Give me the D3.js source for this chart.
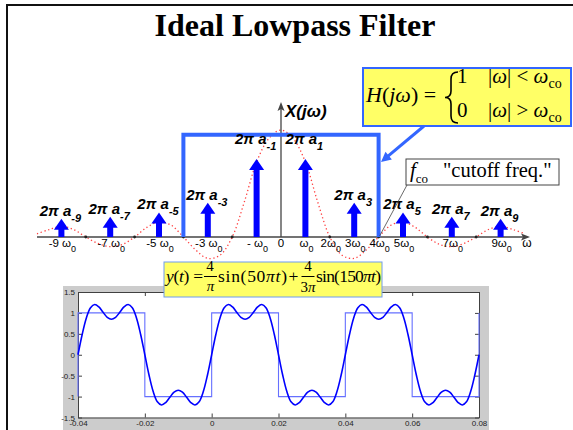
<!DOCTYPE html>
<html><head><meta charset="utf-8">
<script src="https://cdn.jsdelivr.net/npm/d3@7"></script>
<style>
html,body{margin:0;padding:0;background:#fff;}
svg{display:block;}
</style></head>
<body>
<svg id="c" width="573" height="430"></svg>
<script>
// ---------- DATA ----------
const titleText = "Ideal Lowpass Filter";
// spectrum: harmonic indices (multiples of w0) and relative line heights (2*pi*a_k, magnitude)
const harmonicK = [-9, -7, -5, -3, -1, 1, 3, 5, 7, 9];
const harmonicMag = [0.17, 0.19, 0.23, 0.32, 0.73, 0.73, 0.32, 0.23, 0.19, 0.17];
const harmonicSub = ["-9", "-7", "-5", "-3", "-1", "1", "3", "5", "7", "9"];
// dotted envelope (multiples of w0, relative height)
const envW = [-10,-9.5,-9,-8.5,-8,-7.5,-7,-6.5,-6,-5.5,-5,-4.5,-4,-3.5,-3,-2.5,-2,-1.5,-1,-0.5,0,
              0.5,1,1.5,2,2.5,3,3.5,4,4.5,5,5.5,6,6.5,7,7.5,8,8.5,9,9.5,10];
const envV = [0.03,0.07,0.10,0.07,0,-0.06,-0.09,-0.07,0,0.09,0.14,0.11,0,-0.12,-0.20,-0.17,0,0.33,0.70,0.92,1.0,
              0.92,0.70,0.33,0,-0.17,-0.20,-0.12,0,0.11,0.14,0.09,0,-0.07,-0.09,-0.06,0,0.07,0.10,0.07,0.03];
const cutoffW = 4;
const passbandHeight = 0.956;
const freqTickPos = [-9, -7, -5, -3, -1, 0, 1, 2, 3, 4, 5, 7, 9];
const freqTickMain = ["-9 ω", "-7 ω", "-5 ω", "-3 ω", "- ω", "0", "ω", "2ω", "3ω", "4ω", "5ω", "7ω", "9ω"];
const freqTickSub = ["0", "0", "0", "0", "0", "", "0", "0", "0", "0", "0", "0", "0"];
const freqDots = [-8, -6, -4, -2, 2, 4, 6, 8];

// time plot
const tStart = -0.04, tStep = 0.00125;
const yValues = [
 0, 0.484, 0.879, 1.124, 1.200, 1.142, 1.014, 0.896, 0.849, 0.896, 1.014, 1.142, 1.200, 1.124, 0.879, 0.484,
 0, -0.484, -0.879, -1.124, -1.200, -1.142, -1.014, -0.896, -0.849, -0.896, -1.014, -1.142, -1.200, -1.124, -0.879, -0.484,
 0, 0.484, 0.879, 1.124, 1.200, 1.142, 1.014, 0.896, 0.849, 0.896, 1.014, 1.142, 1.200, 1.124, 0.879, 0.484,
 0, -0.484, -0.879, -1.124, -1.200, -1.142, -1.014, -0.896, -0.849, -0.896, -1.014, -1.142, -1.200, -1.124, -0.879, -0.484,
 0, 0.484, 0.879, 1.124, 1.200, 1.142, 1.014, 0.896, 0.849, 0.896, 1.014, 1.142, 1.200, 1.124, 0.879, 0.484,
 0, -0.484, -0.879, -1.124, -1.200, -1.142, -1.014, -0.896, -0.849, -0.896, -1.014, -1.142, -1.200, -1.124, -0.879, -0.484,
 0];
const squareT = [-0.04, -0.04, -0.02, 0, 0.02, 0.04, 0.06, 0.08, 0.08];
const squareV = [-1, 1, -1, 1, -1, 1, -1, -1, 1];
const timeTicks = [-0.04, -0.02, 0, 0.02, 0.04, 0.06, 0.08];
const timeTickLabels = ["-0.04", "-0.02", "0", "0.02", "0.04", "0.06", "0.08"];
const ampTicks = [-1.5, -1, -0.5, 0, 0.5, 1, 1.5];
const ampTickLabels = ["-1.5", "-1", "-0.5", "0", "0.5", "1", "1.5"];
const timeLabel = "time in sec";

// ---------- DRAW ----------
const svg = d3.select("#c");
const SERIF = "'Liberation Serif','Times New Roman',serif";
const SANS = "'Liberation Sans',Arial,Helvetica,sans-serif";

// slide border
svg.append("rect").attr("x", 7).attr("y", 5).attr("width", 700).attr("height", 600)
  .attr("fill", "none").attr("stroke", "#111").attr("stroke-width", 2);

svg.append("text").attr("x", 295).attr("y", 36).attr("text-anchor", "middle")
  .attr("font-family", SERIF).attr("font-weight", "bold").attr("font-size", 32).text(titleText);

// spectrum scales
const xW = d3.scaleLinear().domain([-10, 10]).range([37, 525]);
const yW = d3.scaleLinear().domain([0, 1]).range([237, 130]);

// envelope
svg.append("path").datum(envW.map((w, i) => [w, envV[i]]))
  .attr("d", d3.line().x(d => xW(d[0])).y(d => yW(d[1])).curve(d3.curveCatmullRom))
  .attr("fill", "none").attr("stroke", "#ff4040").attr("stroke-width", 1.3)
  .attr("stroke-dasharray", "1.3,2.6");

// axes of spectrum
const axCol = "#444";
svg.append("line").attr("x1", xW(-10)).attr("x2", 524).attr("y1", yW(0)).attr("y2", yW(0))
  .attr("stroke", axCol).attr("stroke-width", 1.5);
svg.append("path").attr("d", `M530,${yW(0)} L521,${yW(0)-3.5} L523,${yW(0)} L521,${yW(0)+3.5}Z`).attr("fill", axCol);
svg.append("line").attr("x1", xW(0)).attr("x2", xW(0)).attr("y1", yW(0)).attr("y2", 108)
  .attr("stroke", axCol).attr("stroke-width", 1.3);
svg.append("path").attr("d", `M${xW(0)},102 L${xW(0)-3.5},111 L${xW(0)},109 L${xW(0)+3.5},111Z`).attr("fill", axCol);
svg.append("text").attr("x", 285).attr("y", 117).attr("font-family", SANS).attr("font-weight", "bold")
  .attr("font-style", "italic").attr("font-size", 17).text("X(jω)");

svg.selectAll("circle.dot").data(freqDots).join("circle").attr("class", "dot")
  .attr("cx", d => xW(d)).attr("cy", yW(0)).attr("r", 1.4).attr("fill", "#222");

// passband rect
svg.append("path")
  .attr("d", `M${xW(-cutoffW)},${yW(0)} V${yW(passbandHeight)} H${xW(cutoffW)} V${yW(0)}`)
  .attr("fill", "none").attr("stroke", "#3366ff").attr("stroke-width", 4);

// harmonic arrows
const arrows = svg.selectAll("g.arr").data(harmonicK.map((k, i) => ({k, m: harmonicMag[i], s: harmonicSub[i]})))
  .join("g").attr("class", "arr");
arrows.append("rect").attr("x", d => xW(d.k) - 3).attr("width", 6)
  .attr("y", d => yW(d.m) + 10).attr("height", d => yW(0) - yW(d.m) - 10).attr("fill", "#0000ff");
arrows.append("path").attr("d", d => {
  const x = xW(d.k), t = yW(d.m);
  return `M${x},${t} L${x + 7.5},${t + 11} L${x - 7.5},${t + 11}Z`;
}).attr("fill", "#0000ff");
const lab = arrows.append("text")
  .attr("x", d => xW(d.k) - 1)
  .attr("y", d => Math.abs(d.k) === 1 ? yW(d.m) - 15 : yW(d.m) - 3)
  .attr("text-anchor", "middle").attr("font-family", SANS).attr("font-weight", "bold")
  .attr("font-style", "italic").attr("font-size", 15);
lab.append("tspan").text("2π a");
lab.append("tspan").attr("dy", 6).attr("font-size", 11).text(d => d.s);

// frequency tick labels
const ft = svg.selectAll("text.ft").data(freqTickPos.map((p, i) => ({p, m: freqTickMain[i], s: freqTickSub[i]})))
  .join("text").attr("class", "ft")
  .attr("x", d => xW(d.p) + (d.s ? 1 : 0)).attr("y", 247).attr("text-anchor", "middle")
  .attr("font-family", SANS).attr("font-size", 11.5);
ft.append("tspan").text(d => d.m);
ft.append("tspan").attr("dy", 5).attr("font-size", 9).text(d => d.s);
svg.append("text").attr("x", 527).attr("y", 247).attr("text-anchor", "middle")
  .attr("font-family", SANS).attr("font-size", 12).text("ω");

// H(jw) box
const hb = svg.append("g");
hb.append("rect").attr("x", 363).attr("y", 68).attr("width", 208).attr("height", 58)
  .attr("fill", "#ffff66").attr("stroke", "#3366ff").attr("stroke-width", 2);
const ht = hb.append("text").attr("x", 366).attr("y", 102).attr("font-family", SERIF).attr("font-size", 22);
ht.append("tspan").attr("font-style", "italic").text("H");
ht.append("tspan").text("(");
ht.append("tspan").attr("font-style", "italic").text("j");
ht.append("tspan").attr("font-style", "italic").text("ω");
ht.append("tspan").text(") =");
hb.append("path").attr("d", "M458,72 Q451,72 451,79 L451,91 Q451,97.5 445,97.5 Q451,97.5 451,104 L451,116 Q451,123 458,123")
  .attr("fill", "none").attr("stroke", "#000").attr("stroke-width", 1.6);
[[83, "1", "<"], [117, "0", ">"]].forEach(([y, v, op]) => {
  hb.append("text").attr("x", 457).attr("y", y).attr("font-family", SERIF).attr("font-size", 21).text(v);
  const t = hb.append("text").attr("x", 488).attr("y", y).attr("font-family", SERIF).attr("font-size", 21);
  t.append("tspan").text("|");
  t.append("tspan").attr("font-style", "italic").text("ω");
  t.append("tspan").text("| " + op + " ");
  t.append("tspan").attr("font-style", "italic").text("ω");
  t.append("tspan").attr("dy", 5).attr("font-size", 14).text("co");
});

// arrow from H box to passband
(function () {
  const x1 = 424, y1 = 126, x2 = 381, y2 = 162;
  const L = Math.hypot(x2 - x1, y2 - y1), ux = (x2 - x1) / L, uy = (y2 - y1) / L;
  svg.append("line").attr("x1", x1).attr("y1", y1).attr("x2", x2 - 8 * ux).attr("y2", y2 - 8 * uy)
    .attr("stroke", "#3366ff").attr("stroke-width", 3);
  const bx = x2 - 10 * ux, by = y2 - 10 * uy, px = -uy, py = ux;
  svg.append("path").attr("d", `M${x2},${y2} L${bx + 5 * px},${by + 5 * py} L${bx - 5 * px},${by - 5 * py}Z`)
    .attr("fill", "#3366ff");
})();

// cutoff box
svg.append("line").attr("x1", 407).attr("y1", 185).attr("x2", xW(cutoffW) + 1).attr("y2", yW(0) - 1)
  .attr("stroke", "#444").attr("stroke-width", 0.8);
svg.append("rect").attr("x", 406).attr("y", 159).attr("width", 153).attr("height", 26)
  .attr("fill", "#fff").attr("stroke", "#444").attr("stroke-width", 1);
const fc = svg.append("text").attr("x", 410).attr("y", 177).attr("font-family", SERIF).attr("font-size", 21);
fc.append("tspan").attr("font-style", "italic").text("f");
fc.append("tspan").attr("dy", 6).attr("font-size", 13).text("co");
svg.append("text").attr("x", 443).attr("y", 177).attr("font-family", SERIF).attr("font-size", 20.5)
  .text("\"cutoff freq.\"");

// ---------- time plot ----------
svg.append("rect").attr("x", 63).attr("y", 286).attr("width", 426).attr("height", 150).attr("fill", "#cccccc");
const xT = d3.scaleLinear().domain([-0.04, 0.08]).range([78, 479]);
const yT = d3.scaleLinear().domain([-1.5, 1.5]).range([417.5, 292]);
svg.append("rect").attr("x", 78).attr("y", 292).attr("width", 401).attr("height", 125.5).attr("fill", "#fff");

function styleAxis(g, labels) {
  g.select(".domain").attr("stroke", "#404040");
  g.selectAll(".tick line").attr("stroke", "#404040");
  g.selectAll(".tick text").attr("font-family", SANS).attr("font-size", 8).attr("fill", "#222");
  if (!labels) g.selectAll(".tick text").remove();
}
svg.append("g").attr("transform", "translate(0,417.5)")
  .call(d3.axisBottom(xT).tickValues(timeTicks).tickFormat((d, i) => timeTickLabels[i]).tickSizeInner(-4).tickSizeOuter(0).tickPadding(3))
  .call(g => styleAxis(g, true));
svg.append("g").attr("transform", "translate(0,292)")
  .call(d3.axisTop(xT).tickValues(timeTicks).tickSizeInner(-4).tickSizeOuter(0))
  .call(g => styleAxis(g, false));
svg.append("g").attr("transform", "translate(78,0)")
  .call(d3.axisLeft(yT).tickValues(ampTicks).tickFormat((d, i) => ampTickLabels[i]).tickSizeInner(-4).tickSizeOuter(0).tickPadding(3))
  .call(g => styleAxis(g, true));
svg.append("g").attr("transform", "translate(479,0)")
  .call(d3.axisRight(yT).tickValues(ampTicks).tickSizeInner(-4).tickSizeOuter(0))
  .call(g => styleAxis(g, false));

svg.append("path").datum(squareT.map((t, i) => [t, squareV[i]]))
  .attr("d", d3.line().x(d => xT(d[0])).y(d => yT(d[1])).curve(d3.curveStepAfter))
  .attr("fill", "none").attr("stroke", "#6670ff").attr("stroke-width", 1.1);
svg.append("path").datum(yValues.map((v, i) => [tStart + i * tStep, v]))
  .attr("d", d3.line().x(d => xT(d[0])).y(d => yT(d[1])).curve(d3.curveCatmullRom))
  .attr("fill", "none").attr("stroke", "#0000ff").attr("stroke-width", 1.6);

svg.append("text").attr("x", 278).attr("y", 435).attr("text-anchor", "middle")
  .attr("font-family", SANS).attr("font-size", 8).attr("fill", "#222").text(timeLabel);

// y(t) formula box
const yb = svg.append("g");
yb.append("rect").attr("x", 164).attr("y", 262).attr("width", 218).attr("height", 35)
  .attr("fill", "#ffff66").attr("stroke", "#6f9cf0").attr("stroke-width", 1);
function tx(x, y, size, parts, anchor, len) {
  const t = yb.append("text").attr("x", x).attr("y", y).attr("font-family", SERIF).attr("font-size", size)
    .attr("text-anchor", anchor || "start");
  if (len) t.attr("textLength", len).attr("lengthAdjust", "spacing");
  parts.forEach(([s, it]) => t.append("tspan").attr("font-style", it ? "italic" : "normal").text(s));
}
tx(166, 282, 17.5, [["y", 1], ["(", 0], ["t", 1], [") =", 0]], null, 37);
tx(210, 271, 15, [["4", 0]], "middle");
yb.append("line").attr("x1", 204).attr("x2", 217).attr("y1", 276.5).attr("y2", 276.5).attr("stroke", "#000").attr("stroke-width", 1);
tx(210.5, 291, 15, [["π", 1]], "middle");
tx(218, 282, 17.5, [["sin(50", 0], ["πt", 1], [")", 0]], null, 69);
tx(288.5, 282, 17.5, [["+", 0]]);
tx(308, 271, 15, [["4", 0]], "middle");
yb.append("line").attr("x1", 301.5).attr("x2", 314.5).attr("y1", 276.5).attr("y2", 276.5).attr("stroke", "#000").attr("stroke-width", 1);
tx(308, 292, 15, [["3", 0], ["π", 1]], "middle");
tx(316, 282, 17.5, [["sin(150", 0], ["πt", 1], [")", 0]], null, 65);
</script>
</body></html>
